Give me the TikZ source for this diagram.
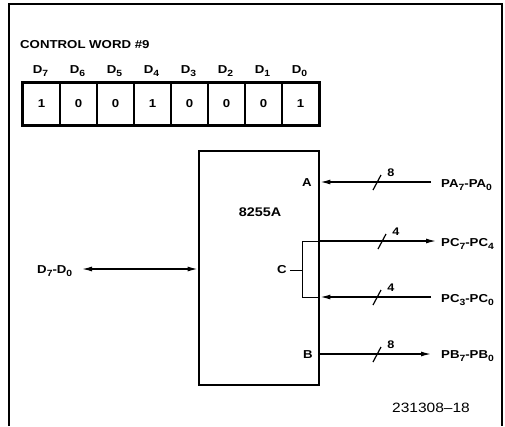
\documentclass[tikz,border=0pt]{standalone}
\usepackage{fontspec}
\setmainfont{Liberation Sans}[FakeStretch=1.15]
\usetikzlibrary{arrows.meta,calc}
\newcommand{\lowidx}[1]{\raisebox{-3.5pt}{\fontsize{9}{9}\selectfont #1}}
\tikzset{
  lbl/.style={font=\fontsize{11.5}{11.5}\selectfont\bfseries, inner sep=0pt},
  bus/.style={line width=1.3pt, -{Latex[length=10pt,width=5pt]}},
  buswidth/.style={font=\fontsize{11}{11}\selectfont\bfseries, inner sep=0pt},
  slash/.pic={\draw[line width=1.2pt] (-4,8) -- (4,-7);}
}
\begin{document}
\begin{tikzpicture}[x=1pt,y=-1pt]
  \useasboundingbox (0,0) rectangle (505,426);
  \def\regx{23} \def\regw{37}
  \def\chipE{319}

  % frame
  \draw[line width=1.5pt] (9,426) -- (9,4) -- (502,4) -- (502,426);

  % control word register
  \node[lbl, anchor=base west] (title) at (20,48) {CONTROL WORD \#9};
  \foreach \i/\v in {0/1,1/0,2/0,3/1,4/0,5/0,6/0,7/1} {
    \pgfmathtruncatemacro{\bit}{7-\i}
    \node[draw, line width=1.3pt, minimum width=\regw pt, minimum height=42pt,
          inner sep=0pt, lbl] (b\bit) at (\regx+\regw/2+\i*\regw,104) {\v};
    \node[lbl, anchor=base] (d\bit) at (\regx+\regw/2+\i*\regw-1,73) {D\lowidx{\bit}};
  }
  \draw[line width=2.8pt] (b7.north west) rectangle (b0.south east);

  % 8255A
  \node[draw, line width=2.8pt, minimum width=120pt, minimum height=234pt,
        inner sep=0pt] (chip) at (259,268) {};
  \node[font=\fontsize{12.5}{12.5}\selectfont\bfseries, inner sep=0pt] (name) at (260,212) {8255A};
  \node[lbl] (portA) at (307,183) {A};
  \node[lbl] (portB) at (308,355) {B};
  \node[lbl] (portC) at (282,270) {C};

  % port C bracket
  \draw[line width=1pt] (\chipE,241) -- (302,241) -- (302,297) -- (\chipE,297);
  \draw[line width=1pt] (portC.east) ++(3,0) coordinate (cdash) -- (302,270);

  % port buses
  \coordinate (pa) at (431,182);
  \coordinate (pch) at (436,241);
  \coordinate (pcl) at (431,297);
  \coordinate (pb) at (431,354);
  \draw[bus] (pa) -- (pa -| chip.east);
  \draw[bus] (pch -| chip.east) -- (pch);
  \draw[bus] (pcl) -- (pcl -| chip.east);
  \draw[bus] (pb -| chip.east) -- (pb);
  \foreach \c/\n/\w in {pa/na/8,pch/nch/4,pcl/ncl/4,pb/nb/8} {
    \path (\c) ++(-54,0) pic {slash};
    \node[buswidth] (\n) at ($(\c)+(-40,-9)$) {\w};
  }

  \node[lbl, anchor=base west] (labA) at (441,187) {PA\lowidx{7}-PA\lowidx{0}};
  \node[lbl, anchor=base west] (labCH) at (441,246) {PC\lowidx{7}-PC\lowidx{4}};
  \node[lbl, anchor=base west] (labCL) at (441,302) {PC\lowidx{3}-PC\lowidx{0}};
  \node[lbl, anchor=base west] (labB) at (441,358) {PB\lowidx{7}-PB\lowidx{0}};

  % data bus
  \node[lbl, anchor=base west] (data) at (37,273) {D\lowidx{7}-D\lowidx{0}};
  \coordinate (dbus) at (82,269);
  \draw[line width=1.3pt, {Latex[length=10pt,width=5pt]}-{Latex[length=10pt,width=5pt]}]
    (dbus) -- (dbus -| chip.west);

  \node[font=\fontsize{13.5}{13.5}\selectfont, inner sep=0pt] (fig) at (431,408) {231308--18};
\end{tikzpicture}
\end{document}
